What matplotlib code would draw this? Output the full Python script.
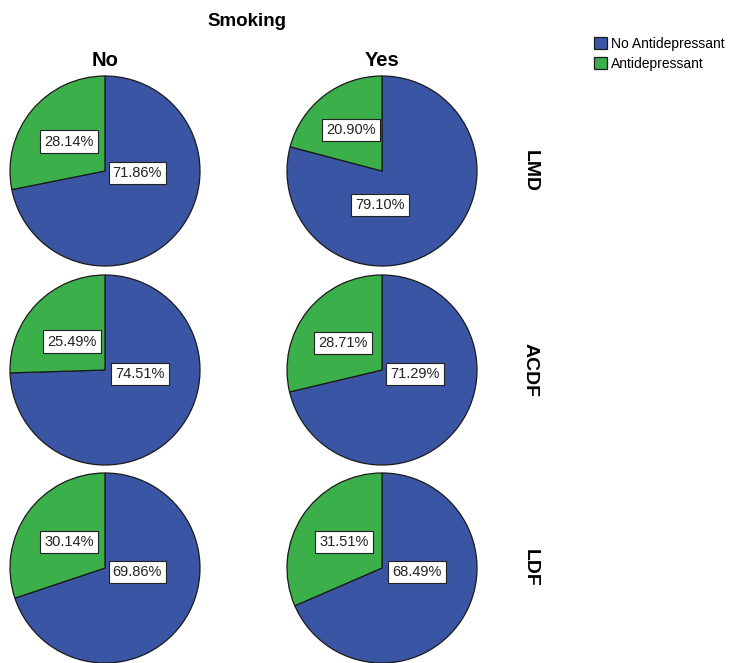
import matplotlib
matplotlib.use("Agg")
import matplotlib.pyplot as plt

plt.rcParams['font.family'] = ['Liberation Sans', 'DejaVu Sans']

# Data
smoking = ["No", "Yes"]
procedures = ["LMD", "ACDF", "LDF"]
series = ["No Antidepressant", "Antidepressant"]
no_antidep = [[71.86, 79.10], [74.51, 71.29], [69.86, 68.49]]
antidep = [[28.14, 20.90], [25.49, 28.71], [30.14, 31.51]]

# label positions (fraction of radius): (green, blue)
green_lab = [[(-0.38, 0.31), (-0.33, 0.43)], [(-0.35, 0.30), (-0.41, 0.28)], [(-0.38, 0.27), (-0.40, 0.27)]]
blue_lab = [[(0.34, -0.02), (-0.02, -0.36)], [(0.37, -0.04), (0.35, -0.04)], [(0.34, -0.04), (0.37, -0.04)]]

colors = ['#3A55A3', '#3BAF4A']

W, H = 736, 663
fig = plt.figure(figsize=(W / 100, H / 100), dpi=100)

R = 95
col_x = [105, 382]
row_y = [171, 370, 568]

wedges_ref = None
for i, proc in enumerate(procedures):
    for j, sm in enumerate(smoking):
        cx, cy = col_x[j], row_y[i]
        ax = fig.add_axes([(cx - R) / W, (H - cy - R) / H, 2 * R / W, 2 * R / H])
        vals = [no_antidep[i][j], antidep[i][j]]
        wedges, _ = ax.pie(vals, colors=colors, startangle=90, counterclock=False,
                           wedgeprops=dict(edgecolor='#1a1a1a', linewidth=0.9))
        if wedges_ref is None:
            wedges_ref = wedges
        ax.set_xlim(-1.0, 1.0)
        ax.set_ylim(-1.0, 1.0)
        ax.set_aspect('equal')
        ax.axis('off')
        for val, pos in ((vals[0], blue_lab[i][j]), (vals[1], green_lab[i][j])):
            ax.text(pos[0], pos[1], f"{val:.2f}%", ha='center', va='center', fontsize=10.5,
                    color='#222222',
                    bbox=dict(boxstyle='square,pad=0.28', facecolor='white', edgecolor='#222222', linewidth=0.8))

# Titles
fig.text(247 / W, 1 - 21 / H, "Smoking", ha='center', va='center', fontsize=13.5, fontweight='bold')
for j, sm in enumerate(smoking):
    fig.text(col_x[j] / W, 1 - 60 / H, sm, ha='center', va='center', fontsize=14.5, fontweight='bold')
for i, proc in enumerate(procedures):
    fig.text(530 / W, 1 - row_y[i] / H, proc, ha='center', va='center', fontsize=14,
             fontweight='bold', rotation=-90)

leg = fig.legend(wedges_ref, series, loc='upper left', bbox_to_anchor=(594 / W, 1 - 37 / H),
                 frameon=False, fontsize=10, handlelength=0.9, handleheight=0.9,
                 handletextpad=0.3, labelspacing=0.42, borderpad=0, borderaxespad=0)

fig.savefig("out.png", dpi=100)
